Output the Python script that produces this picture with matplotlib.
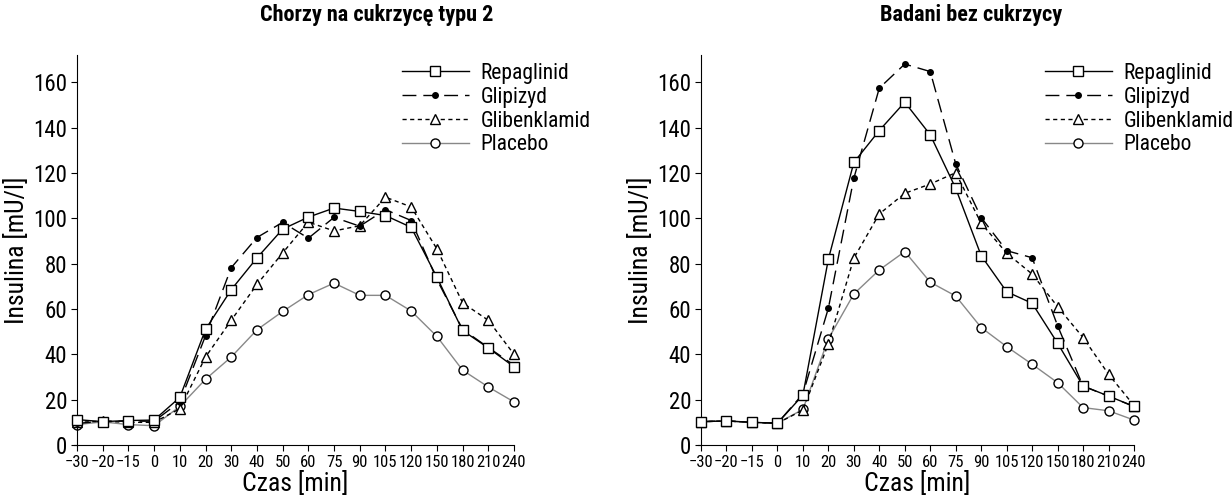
import matplotlib
matplotlib.use('Agg')
import matplotlib.pyplot as plt
from matplotlib import font_manager

# czcionka zwężona, jeśli jest
nazwy_fontow = {f.name for f in font_manager.fontManager.ttflist}
kandydaci = ['Roboto Condensed', 'DejaVu Sans Condensed', 'Liberation Sans Narrow']
waskie = [k for k in kandydaci if k in nazwy_fontow]
plt.rcParams['font.family'] = waskie + ['DejaVu Sans']
plt.rcParams['font.stretch'] = 'condensed'

# dane
czas = ['−30', '−20', '−15', '0', '10', '20', '30', '40', '50', '60',
        '75', '90', '105', '120', '150', '180', '210', '240']

# Chorzy na cukrzycę typu 2
dm_repaglinid = [11.2, 10.3, 10.8, 11.0, 21.0, 51.0, 68.5, 82.5, 95.2, 100.5,
                 104.5, 103.0, 101.2, 96.0, 74.0, 50.5, 42.8, 34.5]
dm_glipizyd = [9.5, 10.5, 10.5, 10.5, 19.0, 48.2, 78.2, 91.5, 98.2, 91.2,
               100.4, 96.5, 103.8, 99.0, 73.0, 51.0, 43.0, 35.2]
dm_glibenklamid = [10.0, 10.5, 10.0, 10.0, 16.0, 38.8, 55.0, 70.8, 84.7, 98.3,
                   94.4, 96.7, 109.3, 105.0, 86.5, 62.7, 55.0, 40.0]
dm_placebo = [9.0, 10.2, 9.0, 8.5, 17.0, 29.0, 38.8, 50.8, 58.9, 66.3,
              71.4, 66.0, 66.0, 59.1, 47.9, 33.0, 25.6, 19.0]

# Badani bez cukrzycy
zd_repaglinid = [10.3, 10.6, 10.0, 9.6, 22.0, 81.9, 124.6, 138.7, 151.2, 136.8,
                 113.2, 83.5, 67.6, 62.5, 44.9, 26.0, 21.6, 17.0]
zd_glipizyd = [10.3, 10.6, 10.0, 9.6, 22.5, 60.3, 117.6, 157.4, 168.0, 164.7,
               124.0, 100.3, 85.7, 82.6, 52.6, 26.0, 21.5, 17.0]
zd_glibenklamid = [10.3, 10.6, 10.0, 9.6, 15.4, 44.6, 82.4, 101.9, 111.0, 115.1,
                   120.1, 97.8, 84.6, 75.4, 61.0, 47.4, 31.2, 17.4]
zd_placebo = [10.3, 10.6, 10.0, 9.6, 15.7, 46.8, 66.6, 77.2, 85.3, 71.8,
              65.7, 51.8, 43.4, 35.6, 27.5, 16.5, 15.1, 11.0]

nazwy = ['Repaglinid', 'Glipizyd', 'Glibenklamid', 'Placebo']
style = [
    dict(color='black', linestyle='-', marker='s', markersize=6.5, markerfacecolor='white', zorder=5),
    dict(color='black', linestyle=(0, (10, 5)), marker='o', markersize=4, markerfacecolor='black', zorder=4),
    dict(color='black', linestyle=(0, (3, 2.5)), marker='^', markersize=7, markerfacecolor='white', zorder=3),
    dict(color='#888888', linestyle='-', marker='o', markersize=6.5, markerfacecolor='white',
         markeredgecolor='black', zorder=2),
]

W, H = 1232, 497
fig = plt.figure(figsize=(W / 100, H / 100), dpi=100)

panele = [
    ('Chorzy na cukrzycę typu 2', [dm_repaglinid, dm_glipizyd, dm_glibenklamid, dm_placebo],
     [77, 514], 377, 402),
    ('Badani bez cukrzycy', [zd_repaglinid, zd_glipizyd, zd_glibenklamid, zd_placebo],
     [701, 1134], 971, 1045),
]

x = list(range(len(czas)))
for tytul, serie, (x0, x1), tx, lx in panele:
    ax = fig.add_axes([x0 / W, 1 - 445 / H, (x1 - x0) / W, 390 / H])
    for nazwa, y, st in zip(nazwy, serie, style):
        ax.plot(x, y, linewidth=1.0, markeredgewidth=1.0, label=nazwa, clip_on=False, **st)
    ax.set_xlim(0, len(czas) - 1)
    ax.set_ylim(0, 172)
    ax.set_xticks(x)
    ax.set_xticklabels(czas, fontsize=12)
    ax.set_yticks(range(0, 161, 20))
    ax.tick_params(axis='y', labelsize=16.5, direction='out', length=4, width=0.8, pad=3)
    ax.tick_params(axis='x', direction='out', length=4, width=0.8, pad=3)
    for s in ['top', 'right']:
        ax.spines[s].set_visible(False)
    ax.spines['left'].set_linewidth(0.8)
    ax.spines['bottom'].set_linewidth(0.8)
    ax.spines['bottom'].set_bounds(-0.12, len(czas) - 1)
    ax.set_xlabel('Czas [min]', fontsize=18.5, labelpad=1)
    ax.set_ylabel('Insulina [mU/l]', fontsize=18.5, labelpad=3)
    fig.text(tx / W, 1 - 15 / H, tytul, fontsize=16, fontweight='bold', ha='center', va='center')
    ax.legend(loc='upper left', bbox_to_anchor=(lx / W, 1 - 63 / H), bbox_transform=fig.transFigure,
              frameon=False, fontsize=15.5, numpoints=1, handlelength=3.1, handletextpad=0.55,
              labelspacing=0.13, borderpad=0, borderaxespad=0)

fig.savefig('out.png', dpi=100)
